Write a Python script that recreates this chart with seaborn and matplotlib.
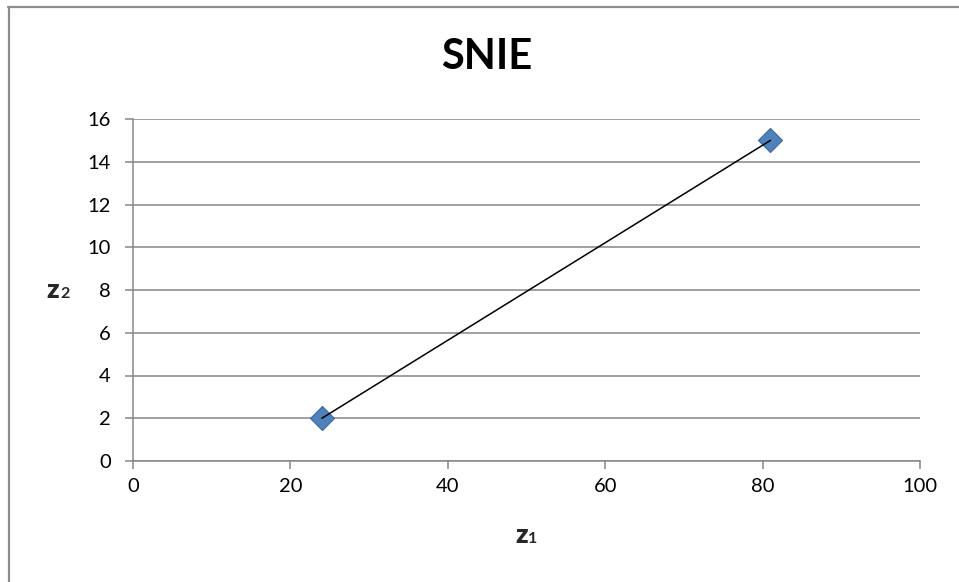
import matplotlib
matplotlib.use("Agg")
import matplotlib.pyplot as plt
import seaborn as sns
import pandas as pd
from matplotlib.lines import Line2D

# data
z1 = [24, 81]
z2 = [2, 15]
x_ticks = [0, 20, 40, 60, 80, 100]
y_ticks = [0, 2, 4, 6, 8, 10, 12, 14, 16]
title = "SNIE"

sns.set_theme(style="white")
plt.rcParams['font.family'] = ['Lato', 'DejaVu Sans']

df = pd.DataFrame({"z1": z1, "z2": z2})

W, H = 959, 582
fig = plt.figure(figsize=(W / 100, H / 100), dpi=100)
ax = fig.add_axes([133 / W, 1 - 461 / H, (920 - 133) / W, (461 - 119) / H])

grid_c = "#868686"
ax.set_xlim(0, 100)
ax.set_ylim(0, 16)
ax.set_xticks(x_ticks)
ax.set_yticks(y_ticks)
ax.yaxis.grid(True, color=grid_c, linewidth=1.1)
ax.xaxis.grid(False)
ax.set_axisbelow(True)

sns.scatterplot(data=df, x="z1", y="z2", marker="D", s=150, color="#4F81BD",
                edgecolor="#3B6A9E", linewidth=0.8, ax=ax, zorder=3, clip_on=False)
sns.lineplot(data=df, x="z1", y="z2", color="black", linewidth=1.1, ax=ax,
             zorder=4, estimator=None, sort=False)

for s in ["top", "right"]:
    ax.spines[s].set_visible(False)
for s in ["left", "bottom"]:
    ax.spines[s].set_color(grid_c)
    ax.spines[s].set_linewidth(1.1)
ax.tick_params(axis="both", which="major", direction="out", length=6, width=1.1,
               color=grid_c, labelsize=14.5, labelcolor="black", left=True, bottom=True)
ax.tick_params(axis="y", pad=10)
ax.tick_params(axis="x", pad=6)
ax.set_xlabel("")
ax.set_ylabel("")

# title
fig.text(487 / W, 1 - 57 / H, title, ha="center", va="center", fontsize=30,
         fontweight="bold", color="black")

# axis labels z1, z2 (letter with smaller digit)
fig.text(515 / W, 1 - 543 / H, "z", ha="left", va="baseline", fontsize=19.5,
         fontweight="heavy")
fig.text(528 / W, 1 - 543 / H, "1", ha="left", va="baseline", fontsize=11.5,
         fontweight="bold")
fig.text(46 / W, 1 - 298 / H, "z", ha="left", va="baseline", fontsize=19.5,
         fontweight="heavy")
fig.text(60 / W, 1 - 298 / H, "2", ha="left", va="baseline", fontsize=11.5,
         fontweight="bold")

# outer chart frame (cut at right and bottom)
frame_c = "#8C8C8C"
fig.add_artist(Line2D([8 / W, 1], [1 - 7 / H, 1 - 7 / H], color=frame_c,
                      linewidth=1.6, transform=fig.transFigure))
fig.add_artist(Line2D([9 / W, 9 / W], [1 - 7 / H, 0], color=frame_c,
                      linewidth=1.6, transform=fig.transFigure))

fig.savefig("out.png", dpi=100, facecolor="white")
